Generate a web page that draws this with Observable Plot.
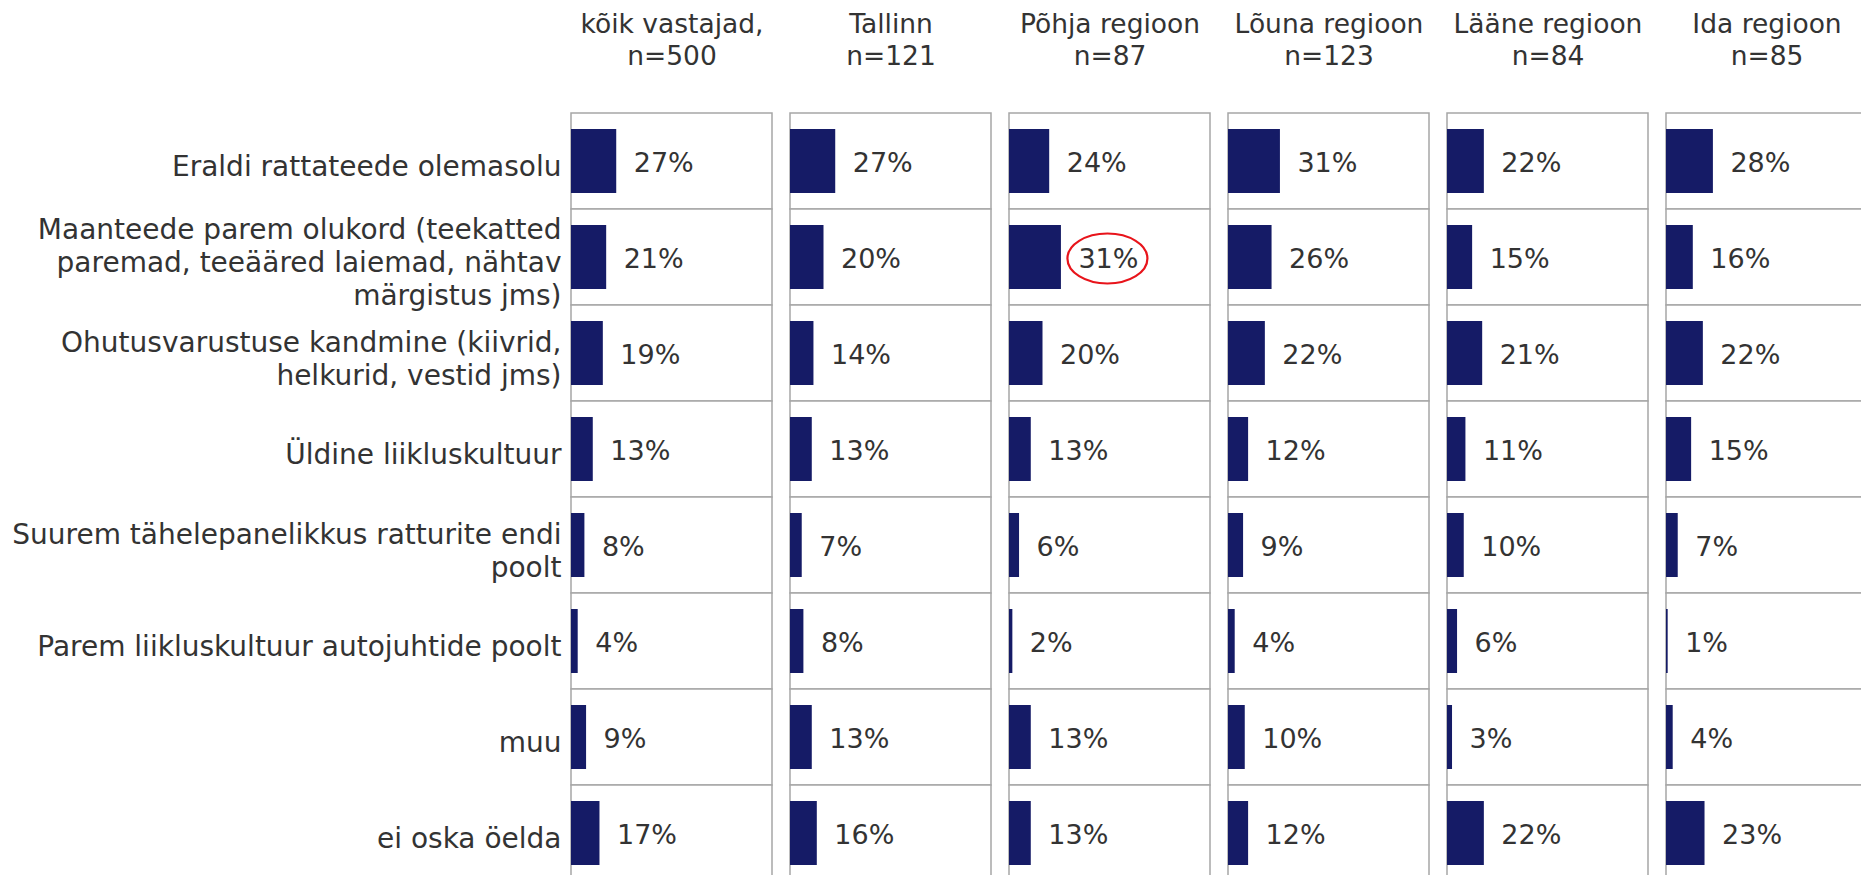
<!DOCTYPE html>
<html>
<head>
<meta charset="utf-8">
<script src="https://cdn.jsdelivr.net/npm/d3@7"></script>
<script src="https://cdn.jsdelivr.net/npm/@observablehq/plot@0.6"></script>
<style>
html, body { margin: 0; padding: 0; background: #fff; overflow: hidden; }
#chart { width: 1861px; height: 875px; overflow: hidden; position: relative; }
#chart svg { display: block; max-width: none !important; }
</style>
</head>
<body>
<div id="chart"></div>
<script>
// ---- data ----
const categories = [
  "Eraldi rattateede olemasolu",
  "Maanteede parem olukord (teekatted paremad, teeääred laiemad, nähtav märgistus jms)",
  "Ohutusvarustuse kandmine (kiivrid, helkurid, vestid jms)",
  "Üldine liikluskultuur",
  "Suurem tähelepanelikkus ratturite endi poolt",
  "Parem liikluskultuur autojuhtide poolt",
  "muu",
  "ei oska öelda"
];
const categoryLabels = [
  "Eraldi rattateede olemasolu",
  "Maanteede parem olukord (teekatted\nparemad, teeääred laiemad, nähtav\nmärgistus jms)",
  "Ohutusvarustuse kandmine (kiivrid,\nhelkurid, vestid jms)",
  "Üldine liikluskultuur",
  "Suurem tähelepanelikkus ratturite endi\npoolt",
  "Parem liikluskultuur autojuhtide poolt",
  "muu",
  "ei oska öelda"
];
const regions = ["kõik vastajad,", "Tallinn", "Põhja regioon", "Lõuna regioon", "Lääne regioon", "Ida regioon"];
const regionSizes = [500, 121, 87, 123, 84, 85];

const valuesAll    = [27, 21, 19, 13, 8, 4, 9, 17];
const valuesTallinn = [27, 20, 14, 13, 7, 8, 13, 16];
const valuesPohja  = [24, 31, 20, 13, 6, 2, 13, 13];
const valuesLouna  = [31, 26, 22, 12, 9, 4, 10, 12];
const valuesLaane  = [22, 15, 21, 11, 10, 6, 3, 22];
const valuesIda    = [28, 16, 22, 15, 7, 1, 4, 23];
const seriesValues = [valuesAll, valuesTallinn, valuesPohja, valuesLouna, valuesLaane, valuesIda];

const highlight = {region: "Põhja regioon", category: categories[1]};

// ---- build table ----
const data = regions.flatMap((r, i) =>
  categories.map((c, j) => ({region: r, category: c, value: seriesValues[i][j]}))
);
const headerOf = r => { const i = regions.indexOf(r); return `${r}\nn=${regionSizes[i]}`; };
const labelOf = c => categoryLabels[categories.indexOf(c)];

// ---- layout ----
const rowH = 96, panelW = 201, gap = 18;
const marginLeft = 571, marginTop = 113, marginRight = 3, marginBottom = 4;
const width = marginLeft + regions.length * panelW + (regions.length - 1) * gap + marginRight;
const height = marginTop + rowH * categories.length + marginBottom;
const barInset = 16;

const ellipseSymbol = {
  draw(ctx) {
    const rx = 40, ry = 25, k = 0.5523;
    ctx.moveTo(rx, 0);
    ctx.bezierCurveTo(rx, ry * k, rx * k, ry, 0, ry);
    ctx.bezierCurveTo(-rx * k, ry, -rx, ry * k, -rx, 0);
    ctx.bezierCurveTo(-rx, -ry * k, -rx * k, -ry, 0, -ry);
    ctx.bezierCurveTo(rx * k, -ry, rx, -ry * k, rx, 0);
    ctx.closePath();
  }
};

const chart = Plot.plot({
  width, height, marginLeft, marginTop, marginRight, marginBottom,
  style: {fontFamily: "DejaVu Sans", color: "#333", background: "#fff", maxWidth: "none"},
  fx: {domain: regions, paddingInner: gap / (panelW + gap), paddingOuter: 0, round: false},
  x: {domain: [0, 120], axis: null},
  y: {domain: categories, padding: 0, axis: null},
  marks: [
    Plot.cell(categories, {y: d => d, fill: "white", stroke: "#a6a6a6", strokeWidth: 1.5, inset: 0}),
    Plot.barX(data, {fx: "region", y: "category", x: "value", fill: "#151b66", insetTop: barInset, insetBottom: barInset}),
    Plot.text(data, {fx: "region", y: "category", x: "value", text: d => `${d.value}%`, textAnchor: "start", dx: 17, dy: 2, fontSize: 27, fill: "#333"}),
    Plot.dot(data.filter(d => d.region === highlight.region && d.category === highlight.category),
      {fx: "region", y: "category", x: "value", dx: 46, dy: 1, symbol: ellipseSymbol, stroke: "#e8141b", strokeWidth: 2.2, fill: "none"}),
    Plot.axisFx({anchor: "top", tickSize: 0, tickPadding: 49, fontSize: 26.5, lineHeight: 1.2, tickFormat: headerOf, label: null}),
    Plot.axisY({anchor: "left", tickSize: 0, tickPadding: 10, fontSize: 28, lineHeight: 1.18, dy: 4, tickFormat: labelOf, label: null})
  ]
});
document.getElementById("chart").append(chart);
</script>
</body>
</html>
